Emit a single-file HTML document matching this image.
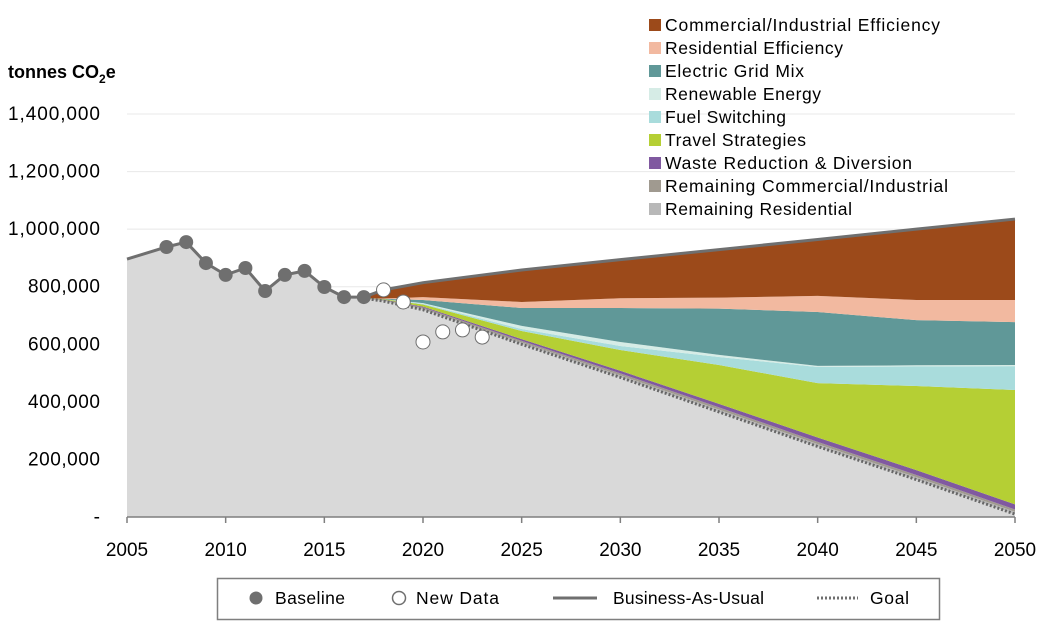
<!DOCTYPE html>
<html><head><meta charset="utf-8"><style>
body{margin:0;background:#fff;font-family:"Liberation Sans",sans-serif;}
svg text{font-family:"Liberation Sans",sans-serif;}
</style></head><body>
<svg id="chart" width="1050" height="623" viewBox="0 0 1050 623" xmlns="http://www.w3.org/2000/svg">
<g id="grid"></g>
<g id="areas"></g>
<g id="lines"></g>
<g id="axes"></g>
<g id="points"></g>
<g id="legend"></g>
</svg>
<script>
const years = [2017, 2018, 2020, 2025, 2030, 2035, 2040, 2045, 2050];
const goal = [760000, 750000, 720000, 600000, 485000, 365000, 245000, 130000, 10000];
const remRes = [0, 2000, 4000, 6000, 7000, 8000, 8000, 8000, 8000];
const remComm = [0, 2000, 4000, 6000, 7000, 8000, 8000, 8000, 8000];
const waste = [0, 1000, 3000, 6000, 9000, 12000, 15000, 17000, 18000];
const travel = [0, 2000, 7000, 28000, 72000, 135000, 189000, 292000, 397000];
const fuel = [0, 0, 3000, 7000, 14000, 28000, 56000, 68000, 83000];
const renewable = [0, 0, 2000, 11000, 14000, 7000, 4000, 4000, 4000];
const grid = [0, 1000, 11000, 62000, 118000, 161000, 187000, 157000, 149000];
const resEff = [0, 1000, 10000, 21000, 34000, 38000, 56000, 70000, 77000];
const comEff = [0, 30000, 50000, 111000, 134000, 167000, 196000, 246000, 281000];
const histYears = [2005, 2007, 2008, 2009, 2010, 2011, 2012, 2013, 2014, 2015, 2016, 2017];
const histVals = [896000, 938000, 955000, 882000, 841000, 865000, 785000, 841000, 855000, 799000, 764000, 764000];
const newYears = [2018, 2019, 2020, 2021, 2022, 2023];
const newVals = [789000, 747000, 608000, 643000, 650000, 625000];
const yTicks = [0, 200000, 400000, 600000, 800000, 1000000, 1200000, 1400000];
const yTickLabels = ["-", "200,000", "400,000", "600,000", "800,000", "1,000,000", "1,200,000", "1,400,000"];
const xTicks = [2005, 2010, 2015, 2020, 2025, 2030, 2035, 2040, 2045, 2050];
const seriesNames = ["Commercial/Industrial Efficiency","Residential Efficiency","Electric Grid Mix","Renewable Energy","Fuel Switching","Travel Strategies","Waste Reduction & Diversion","Remaining Commercial/Industrial","Remaining Residential"];

const NS = "http://www.w3.org/2000/svg";
const X = y => 127 + (y - 2005) * (888 / 45);
const Y = v => 517 - v * (403 / 1400000);
function mk(tag, attrs, parent) { const e = document.createElementNS(NS, tag); for (const k in attrs) e.setAttribute(k, attrs[k]); parent.appendChild(e); return e; }
const gGrid = document.getElementById('grid'), gAreas = document.getElementById('areas'), gLines = document.getElementById('lines'), gAxes = document.getElementById('axes'), gPts = document.getElementById('points'), gLeg = document.getElementById('legend');

yTicks.forEach((t, i) => {
  if (t > 0) { const l = mk('line', {x1:127, x2:1015, y1:Y(t), y2:Y(t), stroke:'#e8e8e8', 'stroke-width':1}, gGrid);
    
     }
  const tx = mk('text', {x:100, y:Y(t)+6, 'text-anchor':'end', 'font-size':19, fill:'#000'}, gAxes);
  tx.textContent = yTickLabels[i];
  if (t >= 1000000) tx.setAttribute('textLength', 92);
  else if (t > 0) tx.setAttribute('textLength', 72);
  
  
});

let bg = histYears.map((y,i)=>[X(y),Y(histVals[i])]).concat(years.slice(1).map((y,i)=>[X(y),Y(goal[i+1])]));
const bgp = mk('path', {d:'M'+X(2005)+','+Y(0)+' L'+bg.map(p=>p.join(',')).join(' L')+' L'+X(2050)+','+Y(0)+'Z', fill:'#d9d9d9'}, gAreas);



const layers = [
  [remRes,'#b8b8b8','remaining-residential-area'],[remComm,'#a09a90','remaining-commercial-area'],[waste,'#8059a0','waste-reduction-area'],
  [travel,'#b5cf34','travel-strategies-area'],[fuel,'#a9dcdc','fuel-switching-area'],[renewable,'#d6ece6','renewable-energy-area'],
  [grid,'#609898','electric-grid-mix-area'],[resEff,'#f2b9a0','residential-efficiency-area'],[comEff,'#9c4a1a','commercial-efficiency-area']];
let cum = goal.slice();
layers.forEach(([arr,col,name])=>{
  const top = cum.map((c,i)=>c+arr[i]);
  const pts = years.map((y,i)=>X(y)+','+Y(top[i])).concat(years.map((y,i)=>X(y)+','+Y(cum[i])).reverse());
  const p = mk('path', {d:'M'+pts.join(' L')+'Z', fill:col}, gAreas);
  
  
  cum = top;
});
const bauPts = histYears.map((y,i)=>X(y)+','+Y(histVals[i])).concat(years.slice(1).map((y,i)=>X(y)+','+Y(cum[i+1])));
const bau = mk('polyline', {points:bauPts.join(' '), fill:'none', stroke:'#6f6f6f', 'stroke-width':3}, gLines);


const gl = mk('polyline', {points:years.map((y,i)=>X(y)+','+Y(goal[i])).join(' '), fill:'none', stroke:'#666', 'stroke-width':3, 'stroke-dasharray':'2 2'}, gLines);



const xa = mk('line', {x1:127, x2:1015, y1:517, y2:517, stroke:'#7f7f7f', 'stroke-width':1.5}, gAxes);


xTicks.forEach(t=>{
  mk('line', {x1:X(t), x2:X(t), y1:517, y2:523, stroke:'#7f7f7f', 'stroke-width':1.5}, gAxes);
  const tx = mk('text', {x:X(t), y:556, 'text-anchor':'middle', 'font-size':19}, gAxes);
  tx.textContent = t;
  
  
});
const yt = mk('text', {x:8, y:78, 'font-size':18, 'font-weight':'bold'}, gAxes);
yt.innerHTML = 'tonnes CO<tspan font-size="12" dy="5">2</tspan><tspan dy="-5">e</tspan>';



histYears.slice(1).forEach((y,i)=>{
  const c = mk('circle', {cx:X(y), cy:Y(histVals[i+1]), r:7, fill:'#6f6f6f'}, gPts);
  
  
});
newYears.forEach((y,i)=>{
  const c = mk('circle', {cx:X(y), cy:Y(newVals[i]), r:7, fill:'#fff', stroke:'#6f6f6f', 'stroke-width':1}, gPts);
  
  
});

const legCols = ['#9c4a1a','#f2b9a0','#609898','#d6ece6','#a9dcdc','#b5cf34','#8059a0','#a09a90','#b8b8b8'];
const legLens = [275,178,139,156,121,141,247,283,187];
seriesNames.forEach((n,i)=>{
  const yy = 25 + i*23;
  mk('rect', {x:649, y:yy-6, width:12, height:12, fill:legCols[i]}, gLeg);
  const t = mk('text', {x:665, y:yy+6, 'font-size':17.5, textLength:legLens[i]}, gLeg);
  t.textContent = n;
  
  
});
const box = mk('rect', {x:217.5, y:578.5, width:722, height:41, fill:'#fff', stroke:'#7f7f7f', 'stroke-width':1.5}, gLeg);


mk('circle', {cx:256, cy:598, r:6.5, fill:'#6f6f6f'}, gLeg);
mk('circle', {cx:399, cy:598, r:6.5, fill:'#fff', stroke:'#6f6f6f', 'stroke-width':1.5}, gLeg);
mk('line', {x1:553, x2:597, y1:598, y2:598, stroke:'#6f6f6f', 'stroke-width':3}, gLeg);
mk('line', {x1:817, x2:858, y1:598, y2:598, stroke:'#6f6f6f', 'stroke-width':3, 'stroke-dasharray':'2 2'}, gLeg);
[[275,'Baseline',70],[416,'New Data',83],[613,'Business-As-Usual',151],[870,'Goal',39]].forEach(([x,s,w])=>{
  const t = mk('text', {x:x, y:604, 'font-size':17.5, textLength:w}, gLeg);
  t.textContent = s;
  
  
});
</script>
</body></html>
